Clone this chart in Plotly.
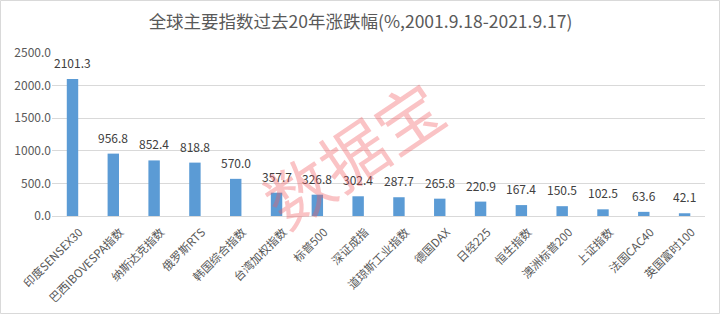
import plotly.graph_objects as go

# 全球主要指数过去20年涨跌幅
indices = ["印度SENSEX30", "巴西IBOVESPA指数", "纳斯达克指数", "俄罗斯RTS", "韩国综合指数",
           "台湾加权指数", "标普500", "深证成指", "道琼斯工业指数", "德国DAX", "日经225",
           "恒生指数", "澳洲标普200", "上证指数", "法国CAC40", "英国富时100"]
changes = [2101.3, 956.8, 852.4, 818.8, 570.0, 357.7, 326.8, 302.4, 287.7, 265.8, 220.9,
           167.4, 150.5, 102.5, 63.6, 42.1]
y_ticks = [0, 500, 1000, 1500, 2000, 2500]

W, H = 721, 315
ML, MR, MT, MB = 52, 16, 53, 99
FONT = "Noto Sans CJK SC"
pw, ph = W - ML - MR, H - MT - MB

fig = go.Figure(go.Bar(
    x=indices, y=changes, marker_color="#5B9BD5", marker_line_width=0,
    hoverinfo="x+y",
))

# value labels above each bar
for name, v in zip(indices, changes):
    fig.add_annotation(x=name, y=v, text=f"{v:.1f}", showarrow=False,
                       yanchor="bottom", yshift=6,
                       font=dict(family=FONT, size=12, color="#404040"))

# watermark
fig.add_annotation(xref="paper", yref="paper",
                   x=(352 - ML) / pw, y=(H - MB - 152) / ph,
                   text="数据宝", showarrow=False, textangle=-34,
                   font=dict(family=FONT, size=66, color="rgba(240,90,95,0.36)"))

# outer chart border
fig.add_shape(type="rect", xref="paper", yref="paper",
              x0=(0.5 - ML) / pw, x1=(W - 1.5 - ML) / pw,
              y0=-(MB - 1.5) / ph, y1=1 + (MT - 0.5) / ph,
              line=dict(color="#D9D9D9", width=1), layer="below")

fig.update_layout(
    width=W, height=H,
    margin=dict(l=ML, r=MR, t=MT, b=MB),
    paper_bgcolor="white", plot_bgcolor="white",
    bargap=0.72,
    showlegend=False,
    title=dict(text="全球主要指数过去20年涨跌幅(%,2001.9.18-2021.9.17)",
               x=0.5, xanchor="center", y=1 - 22 / H, yanchor="middle",
               font=dict(family=FONT, size=17.5, color="#595959")),
    xaxis=dict(tickangle=-45, automargin=False, ticklabelshift=7, ticklabelstandoff=4,
               tickfont=dict(family=FONT, size=11.5, color="#595959"),
               showline=True, linecolor="#D9D9D9", ticks="", showgrid=False),
    yaxis=dict(range=[0, 2500], tickvals=y_ticks, ticktext=[f"{t:.1f}" for t in y_ticks],
               automargin=False,
               tickfont=dict(family=FONT, size=12, color="#595959"),
               showgrid=True, gridcolor="#D9D9D9", zeroline=False, ticks=""),
)

fig.write_html("out.html")
